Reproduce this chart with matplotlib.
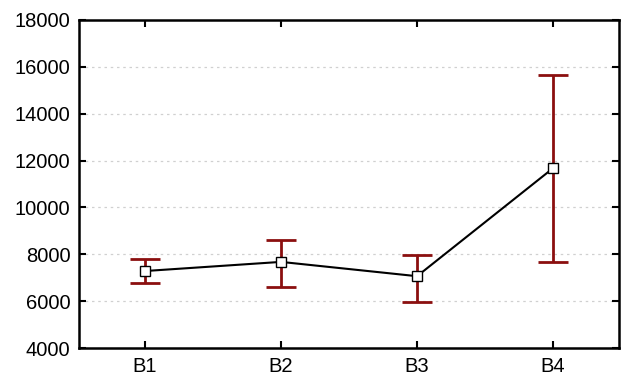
import numpy as np
import matplotlib.pyplot as plt

groups = ["B1", "B2", "B3", "B4"]
means = [7290, 7680, 7070, 11680]
upper = [7800, 8620, 7970, 15660]
lower = [6780, 6610, 5980, 7680]
yticks = [4000, 6000, 8000, 10000, 12000, 14000, 16000, 18000]

plt.rcParams["font.family"] = ["Liberation Sans", "DejaVu Sans"]

fig = plt.figure(figsize=(6.21, 3.76), dpi=100)
ax = fig.add_axes([0.127, 0.074, 0.870, 0.873])

x = np.arange(len(groups))
means = np.array(means)
err = [means - np.array(lower), np.array(upper) - means]

ax.errorbar(x, means, yerr=err, fmt="none", ecolor="#8b0f0f",
            elinewidth=2, capsize=11, capthick=2, zorder=2)
ax.plot(x, means, color="black", lw=1.5, marker="s", ms=7,
        mfc="white", mec="black", mew=1, zorder=3)

ax.set_xlim(-0.485, 3.485)
ax.set_ylim(4000, 18000)
ax.set_xticks(x)
ax.set_xticklabels(groups)
ax.set_yticks(yticks)
ax.yaxis.grid(True, color="#d0d0d0", linestyle=(0, (2, 3)), lw=0.9)
ax.set_axisbelow(True)

ax.tick_params(direction="in", length=5, width=1.5, labelsize=14.5,
               top=True, right=True, pad=6)
for s in ax.spines.values():
    s.set_linewidth(1.8)

fig.savefig("out.png", dpi=100)
